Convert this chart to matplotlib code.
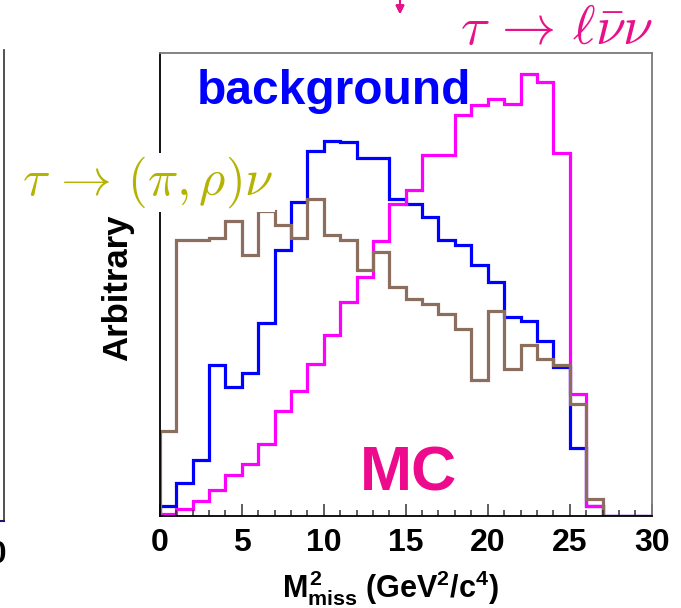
import numpy as np
import matplotlib
matplotlib.use("Agg")
import matplotlib.pyplot as plt
from matplotlib.ticker import MultipleLocator
from matplotlib.lines import Line2D

# bin edges of M^2_miss (GeV^2/c^4), 1 GeV^2 bins from 0 to 30
edges = np.arange(0, 31, 1)

# heights in arbitrary units
background = [10, 33, 56, 151, 129, 143, 193, 266, 314, 365,
              375, 374, 358, 358, 317, 312, 299, 276, 271, 251,
              234, 199, 195, 175, 149, 68, 10, 0, 0, 0]
tau_lnunu = [2, 7, 15, 26, 41, 52, 72, 105, 125, 152,
             181, 214, 239, 275, 312, 326, 361, 361, 401, 411,
             417, 412, 442, 434, 363, 122, 10, 0, 0, 0]
tau_pirho = [85, 276, 276, 278, 295, 261, 305, 291, 278, 317,
             281, 276, 246, 264, 229, 217, 212, 202, 187, 136,
             205, 147, 171, 157, 151, 112, 17, 0, 0, 0]

W, H = 681, 608
plt.rcParams['font.family'] = ['Liberation Sans', 'DejaVu Sans']
plt.rcParams['font.weight'] = 'bold'
plt.rcParams['mathtext.fontset'] = 'custom'
plt.rcParams['mathtext.rm'] = 'Liberation Sans:bold'
plt.rcParams['mathtext.it'] = 'Liberation Sans:bold'
plt.rcParams['mathtext.bf'] = 'Liberation Sans:bold'

fig = plt.figure(figsize=(W / 100, H / 100), dpi=100)
ax = fig.add_axes([159.7 / W, 1 - 515.7 / H, 492 / W, 462.4 / H])

ax.stairs(background, edges, color='#0000ff', lw=2.3)
ax.stairs(tau_lnunu, edges, color='#ff00ff', lw=2.3)
ax.stairs(tau_pirho, edges, color='#8c6e5f', lw=2.3)

ax.set_xlim(0, 30)
ax.set_ylim(0, 462.4)
ax.set_yticks([])
ax.xaxis.set_major_locator(MultipleLocator(5))
ax.xaxis.set_minor_locator(MultipleLocator(1))
ax.tick_params(axis='x', which='major', direction='in', length=9, width=1.1,
               color='#333333', labelsize=23, pad=9, top=False)
ax.tick_params(axis='x', which='minor', direction='in', length=4.5, width=1.1,
               color='#333333', top=False)
for lab in ax.get_xticklabels():
    lab.set_fontweight('bold')

for side in ['left', 'bottom']:
    ax.spines[side].set_color('black')
    ax.spines[side].set_linewidth(1.3)
for side in ['top', 'right']:
    ax.spines[side].set_color('#7a7a7a')
    ax.spines[side].set_linewidth(1.3)

ax.set_xlabel(r'$M^{2}_{miss}$ (GeV$^{2}$/c$^{4}$)', fontsize=22, fontweight='bold',
              va='baseline')
ax.xaxis.set_label_coords(0.468, (515.7 - 597) / 462.4)

ax.set_ylabel('Arbitrary', fontsize=25, fontweight='bold')
ax.yaxis.set_label_coords((134 - 159.7) / 492, 0.492)


def fx(x):
    return x / W


def fy(y):
    return 1 - y / H


fig.text(fx(197), fy(104), 'background', color='#0000ff', fontsize=34.5,
         fontweight='bold', va='baseline')
fig.text(fx(360), fy(490.7), 'MC', color='#ee0a8c', fontsize=45,
         fontweight='bold', va='baseline')
fig.text(fx(22), fy(195), r'$\tau\,\rightarrow\,(\pi,\rho)\nu$', color='#b3b300',
         fontsize=36.5, va='baseline', math_fontfamily='cm',
         bbox=dict(facecolor='white', edgecolor='none', pad=1))
fig.text(fx(460), fy(44), r'$\tau\,\rightarrow\,\ell\bar{\nu}\nu$', color='#e8118a',
         fontsize=39, va='baseline', math_fontfamily='cm')
fig.add_artist(plt.annotate('', xy=(fx(400), fy(17)), xytext=(fx(400), fy(-6)),
                            xycoords='figure fraction',
                            arrowprops=dict(arrowstyle='-|>', color='#e8118a',
                                            lw=1.5, mutation_scale=12)))

# edge of the neighbouring panel on the left
fig.add_artist(Line2D([fx(4), fx(4)], [fy(50), fy(521)], color='#333333', lw=1.2))
fig.add_artist(Line2D([fx(0), fx(4)], [fy(521), fy(521)], color='#1a1a6a', lw=1.5))
fig.text(fx(7), fy(555), '30', fontsize=23, fontweight='bold', ha='right',
         va='center')

fig.savefig('out.png', dpi=100)
